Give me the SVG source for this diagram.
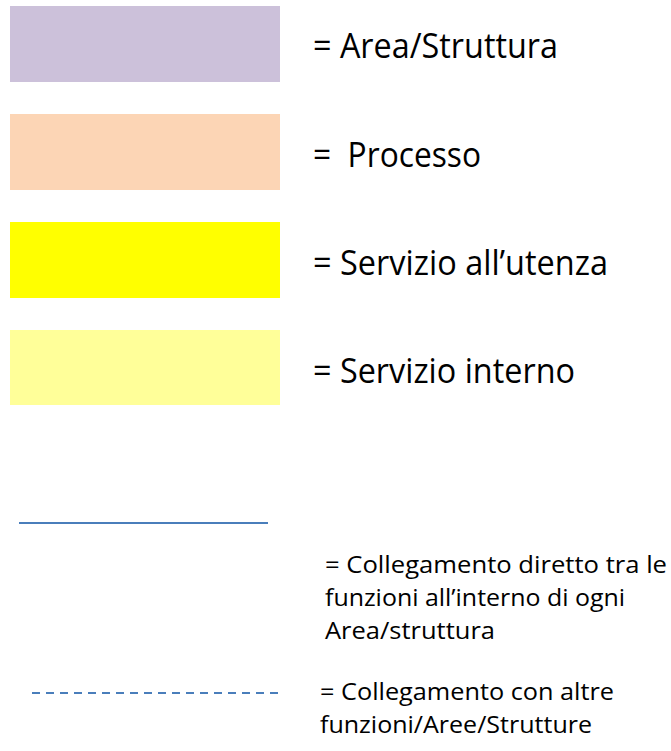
<svg xmlns="http://www.w3.org/2000/svg" width="671" height="751" viewBox="0 0 671 751">
<style>
.big{font-family:"Open Sans","Noto Sans","Liberation Sans",sans-serif;font-size:34px;fill:#000}
.small{font-family:"Open Sans","Noto Sans","Liberation Sans",sans-serif;font-size:24px;fill:#000}
.conn{stroke:#4A7EBB;stroke-width:2;fill:none}
</style>
<rect width="671" height="751" fill="#fff"/>
<g id="area">
<rect x="10" y="6" width="270" height="76" fill="#CCC1DA"/>
<text class="big" x="313" y="58" textLength="245" lengthAdjust="spacingAndGlyphs">= Area/Struttura</text>
</g>
<g id="processo">
<rect x="10" y="114" width="270" height="76" fill="#FCD5B5"/>
<text class="big" x="313" y="167" textLength="168" lengthAdjust="spacingAndGlyphs" xml:space="preserve">=  Processo</text>
</g>
<g id="servizio-utenza">
<rect x="10" y="222" width="270" height="76" fill="#FFFF00"/>
<text class="big" x="313" y="275" textLength="295" lengthAdjust="spacingAndGlyphs">= Servizio all’utenza</text>
</g>
<g id="servizio-interno">
<rect x="10" y="330" width="270" height="75" fill="#FFFF99"/>
<text class="big" x="313" y="383" textLength="262" lengthAdjust="spacingAndGlyphs">= Servizio interno</text>
</g>
<g id="connectors">
<line class="conn" x1="19" y1="523" x2="268" y2="523"/>
<line class="conn" x1="32" y1="693" x2="279" y2="693" stroke-dasharray="8 6" stroke="#5A8AC6"/>
</g>
<g id="legend-direct">
<text class="small" x="325" y="573" textLength="342" lengthAdjust="spacingAndGlyphs">= Collegamento diretto tra le</text>
<text class="small" x="325" y="606" textLength="300" lengthAdjust="spacingAndGlyphs">funzioni all’interno di ogni</text>
<text class="small" x="325" y="639" textLength="170" lengthAdjust="spacingAndGlyphs">Area/struttura</text>
</g>
<g id="legend-other">
<text class="small" x="320" y="700" textLength="294" lengthAdjust="spacingAndGlyphs">= Collegamento con altre</text>
<text class="small" x="320" y="733" textLength="272" lengthAdjust="spacingAndGlyphs">funzioni/Aree/Strutture</text>
</g>
</svg>
